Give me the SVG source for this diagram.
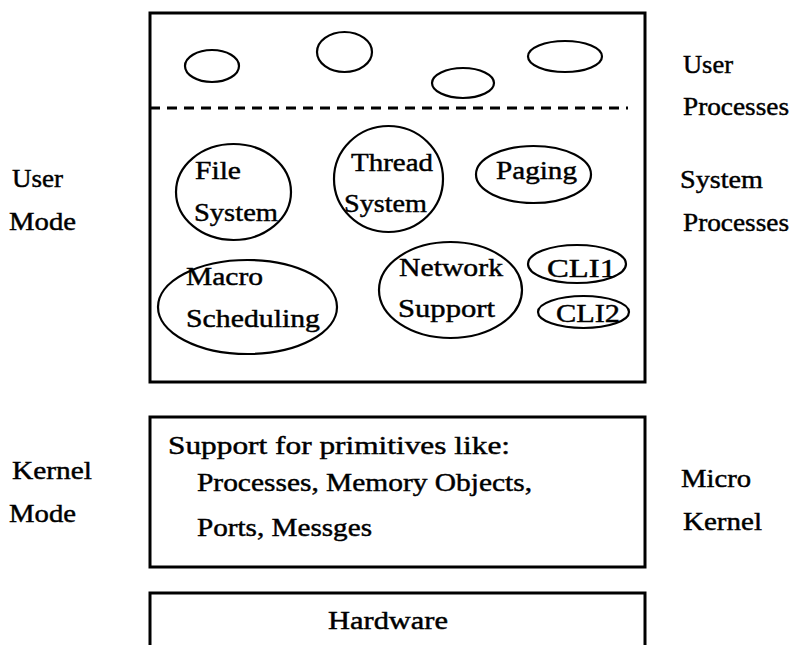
<svg xmlns="http://www.w3.org/2000/svg" width="796" height="645" viewBox="0 0 796 645">
  <style>
    .box { fill: none; stroke: #000; stroke-width: 3; }
    .oval { fill: none; stroke: #000; stroke-width: 2.2; }
    .sep { stroke: #000; stroke-width: 3; stroke-dasharray: 10 7; }
    text { font-family: "Liberation Serif", "DejaVu Serif", "Times New Roman", serif; font-size: 26px; fill: #000; stroke: #000; stroke-width: 0.45; }
  </style>
  <rect width="796" height="645" fill="#fff"/>

  <!-- side labels -->
  <g id="label-user-mode">
    <text x="12" y="187" textLength="51" lengthAdjust="spacingAndGlyphs">User</text>
    <text x="9" y="230" textLength="67" lengthAdjust="spacingAndGlyphs">Mode</text>
  </g>
  <g id="label-kernel-mode">
    <text x="12" y="479" textLength="80" lengthAdjust="spacingAndGlyphs">Kernel</text>
    <text x="9" y="522" textLength="67" lengthAdjust="spacingAndGlyphs">Mode</text>
  </g>
  <g id="label-user-processes">
    <text x="683" y="73" textLength="50" lengthAdjust="spacingAndGlyphs">User</text>
    <text x="683" y="115" textLength="106" lengthAdjust="spacingAndGlyphs">Processes</text>
  </g>
  <g id="label-system-processes">
    <text x="680" y="188" textLength="83" lengthAdjust="spacingAndGlyphs">System</text>
    <text x="683" y="231" textLength="106" lengthAdjust="spacingAndGlyphs">Processes</text>
  </g>
  <g id="label-micro-kernel">
    <text x="681" y="487" textLength="70" lengthAdjust="spacingAndGlyphs">Micro</text>
    <text x="683" y="530" textLength="79" lengthAdjust="spacingAndGlyphs">Kernel</text>
  </g>

  <!-- user mode area -->
  <g id="user-space">
    <rect class="box" x="150" y="13" width="495" height="369"/>
  </g>
  <g id="separators">
    <line class="sep" x1="150" y1="108" x2="628" y2="108"/>
  </g>

  <!-- anonymous user processes -->
  <g id="user-proc-1"><ellipse class="oval" cx="212" cy="66" rx="27" ry="16"/></g>
  <g id="user-proc-2"><ellipse class="oval" cx="344.5" cy="52" rx="27.5" ry="20"/></g>
  <g id="user-proc-3"><ellipse class="oval" cx="463" cy="83" rx="31" ry="15"/></g>
  <g id="user-proc-4"><ellipse class="oval" cx="565" cy="56.5" rx="37" ry="15.5"/></g>

  <!-- system processes -->
  <g id="file-system">
    <ellipse class="oval" cx="233.5" cy="192" rx="57.5" ry="48"/>
    <text x="195" y="179" textLength="46" lengthAdjust="spacingAndGlyphs">File</text>
    <text x="194" y="221" textLength="84" lengthAdjust="spacingAndGlyphs">System</text>
  </g>
  <g id="thread-system">
    <ellipse class="oval" cx="388.5" cy="179" rx="54.5" ry="53"/>
    <text x="351" y="171" textLength="82" lengthAdjust="spacingAndGlyphs">Thread</text>
    <text x="344" y="212" textLength="83" lengthAdjust="spacingAndGlyphs">System</text>
  </g>
  <g id="paging">
    <ellipse class="oval" cx="533.5" cy="174.5" rx="57.5" ry="28.5"/>
    <text x="496" y="179" textLength="81" lengthAdjust="spacingAndGlyphs">Paging</text>
  </g>
  <g id="macro-scheduling">
    <ellipse class="oval" cx="247.5" cy="307" rx="89.5" ry="47"/>
    <text x="186" y="285" textLength="77" lengthAdjust="spacingAndGlyphs">Macro</text>
    <text x="186" y="327" textLength="134" lengthAdjust="spacingAndGlyphs">Scheduling</text>
  </g>
  <g id="network-support">
    <ellipse class="oval" cx="450.5" cy="290" rx="71.5" ry="48"/>
    <text x="399" y="276" textLength="104" lengthAdjust="spacingAndGlyphs">Network</text>
    <text x="398" y="317" textLength="97" lengthAdjust="spacingAndGlyphs">Support</text>
  </g>
  <g id="cli1">
    <ellipse class="oval" cx="577" cy="264" rx="49" ry="19"/>
    <text x="547" y="277" textLength="69" lengthAdjust="spacingAndGlyphs">CLI1</text>
  </g>
  <g id="cli2">
    <ellipse class="oval" cx="583.5" cy="312" rx="45.5" ry="16"/>
    <text x="556" y="322" textLength="64" lengthAdjust="spacingAndGlyphs">CLI2</text>
  </g>

  <!-- kernel -->
  <g id="micro-kernel">
    <rect class="box" x="150" y="417" width="495" height="150"/>
    <text x="168" y="454" textLength="342" lengthAdjust="spacingAndGlyphs">Support for primitives like:</text>
    <text x="197" y="491" textLength="335" lengthAdjust="spacingAndGlyphs">Processes, Memory Objects,</text>
    <text x="197" y="536" textLength="175" lengthAdjust="spacingAndGlyphs">Ports, Messges</text>
  </g>

  <!-- hardware -->
  <g id="hardware">
    <rect class="box" x="150" y="593" width="495" height="70"/>
    <text x="328" y="629" textLength="120" lengthAdjust="spacingAndGlyphs">Hardware</text>
  </g>
</svg>
